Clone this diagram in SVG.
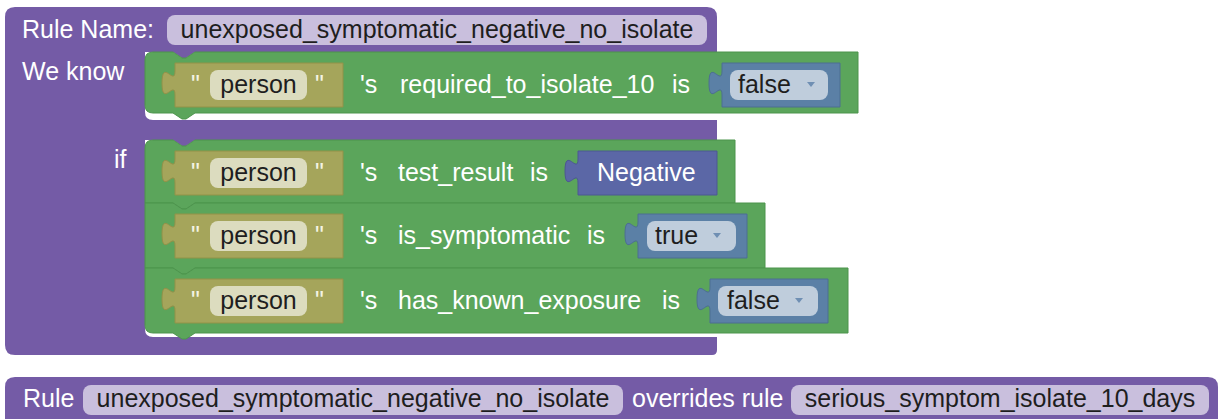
<svg xmlns="http://www.w3.org/2000/svg" width="1225" height="419" viewBox="0 0 1225 419">
  <style>
    text { font-family: "Liberation Sans", Arial, sans-serif; font-size: 25px; }
    .lbl { fill: #ffffff; }
    .val { fill: #1e1e1e; }
    .quote { fill: #f4f4e4; }
    .rule { fill: #745ba6; }
    .stmt { fill: #5ba55b; stroke: #4d944d; stroke-width: 1; }
    .olive { fill: #a5a55b; stroke: #929249; stroke-width: 1; }
    .enum { fill: #5b80a6; stroke: #4d6f92; stroke-width: 1; }
    .neg { fill: #5b67a6; stroke: #4d5892; stroke-width: 1; }
    .pill-rule { fill: #c9bfdd; }
    .pill-olive { fill: #dcdcbf; }
    .pill-enum { fill: #bfcddc; }
    .arrow { fill: #6f8fb3; }
  </style>

  <!-- rule definition block (C-shaped, two statement inputs) -->
  <g id="rule-block">
    <path class="rule" d="M 15,7 H 707 Q 717,7 717,17 V 52 H 195 l -9,6 h -4 l -9,-6 H 145 V 112 Q 145,120 153,120 H 717 V 140 H 195 l -9,6 h -4 l -9,-6 H 145 V 329 Q 145,337 153,337 H 717 V 350 Q 717,355 712,355 H 15 Q 5,355 5,345 V 17 Q 5,7 15,7 Z"/>
    <text class="lbl" x="22" y="38">Rule Name:</text>
    <rect class="pill-rule" x="167" y="15" width="540" height="30" rx="8"/>
    <text class="val" x="437" y="38" text-anchor="middle">unexposed_symptomatic_negative_no_isolate</text>
    <text class="lbl" x="22" y="80">We know</text>
    <text class="lbl" x="114" y="168">if</text>
  </g>

  <!-- conclusion: person's required_to_isolate_10 is false -->
  <g id="fact-required">
    <path class="stmt" d="M 145,60 Q 145,52 153,52 H 173 l 9,6 h 4 l 9,-6 H 858 V 113 H 195 l -9,6 h -4 l -9,-6 H 153 Q 145,113 145,105 Z"/>
    <path class="olive" d="M 175,63 V 71 c 0,16 -13,-13 -13,12 s 13,-4 13,12 V 107 H 343 V 63 Z"/>
    <text class="quote" x="191" y="93">"</text>
    <rect class="pill-olive" x="210" y="70" width="97" height="30" rx="8"/>
    <text class="val" x="258.5" y="93" text-anchor="middle">person</text>
    <text class="quote" x="315" y="93">"</text>
    <text class="lbl" x="360" y="93">'s</text>
    <text class="lbl" x="400" y="93">required_to_isolate_10</text>
    <text class="lbl" x="672" y="93">is</text>
    <path class="enum" d="M 722,63 V 71 c 0,16 -13,-13 -13,12 s 13,-4 13,12 V 107 H 840 V 63 Z"/>
    <rect class="pill-enum" x="730" y="70" width="98" height="30" rx="8"/>
    <text class="val" x="738" y="93">false</text>
    <polygon class="arrow" points="807,82 815,82 811,87"/>
  </g>

  <!-- condition 1: person's test_result is Negative -->
  <g id="cond-test-result">
    <path class="stmt" d="M 145,148 Q 145,140 153,140 H 173 l 9,6 h 4 l 9,-6 H 735 V 203 H 195 l -9,6 h -4 l -9,-6 H 145 Z"/>
    <path class="olive" d="M 175,151 V 159 c 0,16 -13,-13 -13,12 s 13,-4 13,12 V 195 H 343 V 151 Z"/>
    <text class="quote" x="191" y="181">"</text>
    <rect class="pill-olive" x="210" y="158" width="97" height="30" rx="8"/>
    <text class="val" x="258.5" y="181" text-anchor="middle">person</text>
    <text class="quote" x="315" y="181">"</text>
    <text class="lbl" x="360" y="181">'s</text>
    <text class="lbl" x="398" y="181">test_result</text>
    <text class="lbl" x="530" y="181">is</text>
    <path class="neg" d="M 578,151 V 159 c 0,16 -13,-13 -13,12 s 13,-4 13,12 V 195 H 717 V 151 Z"/>
    <text class="lbl" x="597" y="181">Negative</text>
  </g>

  <!-- condition 2: person's is_symptomatic is true -->
  <g id="cond-symptomatic">
    <path class="stmt" d="M 145,203 H 173 l 9,6 h 4 l 9,-6 H 765 V 268 H 195 l -9,6 h -4 l -9,-6 H 145 Z"/>
    <path class="olive" d="M 175,214 V 222 c 0,16 -13,-13 -13,12 s 13,-4 13,12 V 258 H 343 V 214 Z"/>
    <text class="quote" x="191" y="244">"</text>
    <rect class="pill-olive" x="210" y="221" width="97" height="30" rx="8"/>
    <text class="val" x="258.5" y="244" text-anchor="middle">person</text>
    <text class="quote" x="315" y="244">"</text>
    <text class="lbl" x="360" y="244">'s</text>
    <text class="lbl" x="398" y="244">is_symptomatic</text>
    <text class="lbl" x="587" y="244">is</text>
    <path class="enum" d="M 638,214 V 222 c 0,16 -13,-13 -13,12 s 13,-4 13,12 V 258 H 747 V 214 Z"/>
    <rect class="pill-enum" x="647" y="221" width="89" height="30" rx="8"/>
    <text class="val" x="655" y="244">true</text>
    <polygon class="arrow" points="713,233 721,233 717,238"/>
  </g>

  <!-- condition 3: person's has_known_exposure is false -->
  <g id="cond-exposure">
    <path class="stmt" d="M 145,268 H 173 l 9,6 h 4 l 9,-6 H 848 V 333 H 195 l -9,6 h -4 l -9,-6 H 153 Q 145,333 145,325 Z"/>
    <path class="olive" d="M 175,279 V 287 c 0,16 -13,-13 -13,12 s 13,-4 13,12 V 323 H 343 V 279 Z"/>
    <text class="quote" x="191" y="309">"</text>
    <rect class="pill-olive" x="210" y="286" width="97" height="30" rx="8"/>
    <text class="val" x="258.5" y="309" text-anchor="middle">person</text>
    <text class="quote" x="315" y="309">"</text>
    <text class="lbl" x="360" y="309">'s</text>
    <text class="lbl" x="398" y="309">has_known_exposure</text>
    <text class="lbl" x="662" y="309">is</text>
    <path class="enum" d="M 710,279 V 287 c 0,16 -13,-13 -13,12 s 13,-4 13,12 V 323 H 828 V 279 Z"/>
    <rect class="pill-enum" x="718" y="286" width="100" height="30" rx="8"/>
    <text class="val" x="727" y="309">false</text>
    <polygon class="arrow" points="795,298 803,298 799,303"/>
  </g>

  <!-- override statement -->
  <g id="override">
    <path class="rule" d="M 15,377 H 1208 Q 1218,377 1218,387 V 425 H 5 V 387 Q 5,377 15,377 Z"/>
    <text class="lbl" x="23" y="407">Rule</text>
    <rect class="pill-rule" x="83" y="385" width="540" height="30" rx="8"/>
    <text class="val" x="353" y="407" text-anchor="middle">unexposed_symptomatic_negative_no_isolate</text>
    <text class="lbl" x="632" y="407">overrides rule</text>
    <rect class="pill-rule" x="791" y="385" width="418" height="30" rx="8"/>
    <text class="val" x="1000" y="407" text-anchor="middle">serious_symptom_isolate_10_days</text>
  </g>

  <!-- no connectors between blocks: they snap together directly -->
  <g id="connectors"/>
</svg>
